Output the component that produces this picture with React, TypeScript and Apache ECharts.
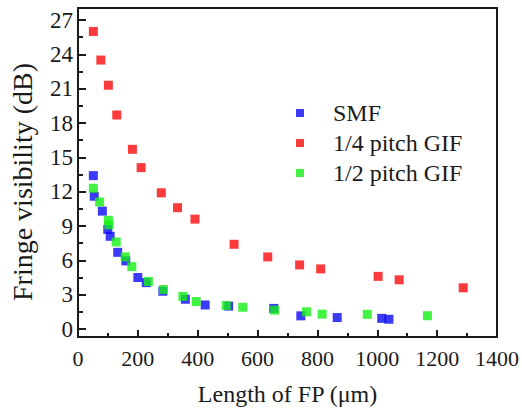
import React, { useEffect, useRef } from "react";
import * as echarts from "echarts";

const seriesNames = ["SMF", "1/4 pitch GIF", "1/2 pitch GIF"];
const seriesColors = ["#0a0af5", "#fa0a0a", "#14f014"];

const smfData: number[][] = [
  [51, 13.4], [54, 11.6], [81, 10.3], [99, 8.7], [107, 8.1], [132, 6.7],
  [159, 5.95], [199, 4.5], [227, 4.05], [282, 3.3], [357, 2.6], [423, 2.1],
  [501, 2.0], [651, 1.8], [741, 1.15], [862, 1.0], [1010, 0.93], [1034, 0.85],
];
const quarterData: number[][] = [
  [51, 26.0], [76, 23.5], [101, 21.3], [129, 18.7], [181, 15.7], [210, 14.1],
  [277, 11.9], [331, 10.6], [389, 9.6], [519, 7.4], [631, 6.3], [737, 5.6],
  [807, 5.25], [998, 4.6], [1068, 4.3], [1281, 3.6],
];
const halfData: number[][] = [
  [51, 12.3], [72, 11.1], [101, 9.5], [103, 9.1], [127, 7.6], [157, 6.3],
  [179, 5.45], [234, 4.15], [284, 3.45], [349, 2.85], [393, 2.4], [493, 2.05],
  [548, 1.9], [654, 1.65], [760, 1.5], [812, 1.3], [962, 1.28], [1162, 1.16],
];

const xMin = 0, xMax = 1400, xInterval = 200;
const yMin = 0, yMax = 27, yInterval = 3;
const xTitle = "Length of FP (μm)";
const yTitle = "Fringe visibility (dB)";

const FONT = "Liberation Serif";
const INK = "#1a1a1a";

export default function App() {
  const ref = useRef<HTMLDivElement>(null);
  useEffect(() => {
    if (!ref.current) return;
    const chart = echarts.init(ref.current, null, { renderer: "svg" });
    const allData = [smfData, quarterData, halfData];
    chart.setOption({
      animation: false,
      backgroundColor: "#ffffff",
      textStyle: { fontFamily: FONT, color: INK },
      grid: [
        { left: 78, right: 23, top: 8, height: 333, show: true, borderColor: INK, borderWidth: 2, backgroundColor: "transparent" },
        { left: 78, right: 23, top: 20, height: 309, show: false },
      ],
      xAxis: [
        {
          type: "value", gridIndex: 0, min: xMin, max: xMax, interval: xInterval,
          axisLine: { show: true, lineStyle: { color: INK, width: 2 } },
          axisTick: { show: true, inside: true, length: 7, lineStyle: { color: INK, width: 2 } },
          minorTick: { show: true, splitNumber: 2, length: 4, lineStyle: { color: INK, width: 2 } },
          axisLabel: { fontSize: 22, color: INK, fontFamily: FONT, margin: 10, formatter: (v: number) => String(v) },
          splitLine: { show: false },
          name: xTitle, nameLocation: "middle", nameGap: 45,
          nameTextStyle: { fontSize: 24, color: INK, fontFamily: FONT },
        },
        { type: "value", gridIndex: 1, min: xMin, max: xMax, show: false },
      ],
      yAxis: [
        { type: "value", gridIndex: 0, min: 0, max: 1, show: false },
        {
          type: "value", gridIndex: 1, min: yMin, max: yMax, interval: yInterval,
          axisLine: { show: false },
          axisTick: { show: true, inside: true, length: 8, lineStyle: { color: INK, width: 2 } },
          minorTick: { show: true, splitNumber: 2, length: 5, lineStyle: { color: INK, width: 2 } },
          axisLabel: { fontSize: 23, color: INK, fontFamily: FONT, margin: 5, formatter: (v: number) => String(v) },
          splitLine: { show: false },
        },
      ],
      legend: {
        orient: "vertical", left: 291, top: 96, itemWidth: 8, itemHeight: 8, itemGap: 6,
        icon: "rect",
        textStyle: { fontSize: 24, color: INK, fontFamily: FONT, padding: [0, 0, 0, 24] },
        data: seriesNames,
      },
      graphic: [
        {
          type: "text", x: 22, y: 182, rotation: Math.PI / 2,
          style: { text: yTitle, fontSize: 28, fontFamily: FONT, fill: INK, align: "center", verticalAlign: "middle" },
        },
      ],
      series: seriesNames.map((name, i) => ({
        name, type: "scatter", xAxisIndex: 1, yAxisIndex: 1,
        symbol: "rect", symbolSize: 9,
        itemStyle: { color: seriesColors[i] },
        data: allData[i],
        z: 2 + i,
      })),
    });
    return () => chart.dispose();
  }, []);
  return <div ref={ref} style={{ position: "absolute", left: 0, top: 0, width: 522, height: 411 }} />;
}
